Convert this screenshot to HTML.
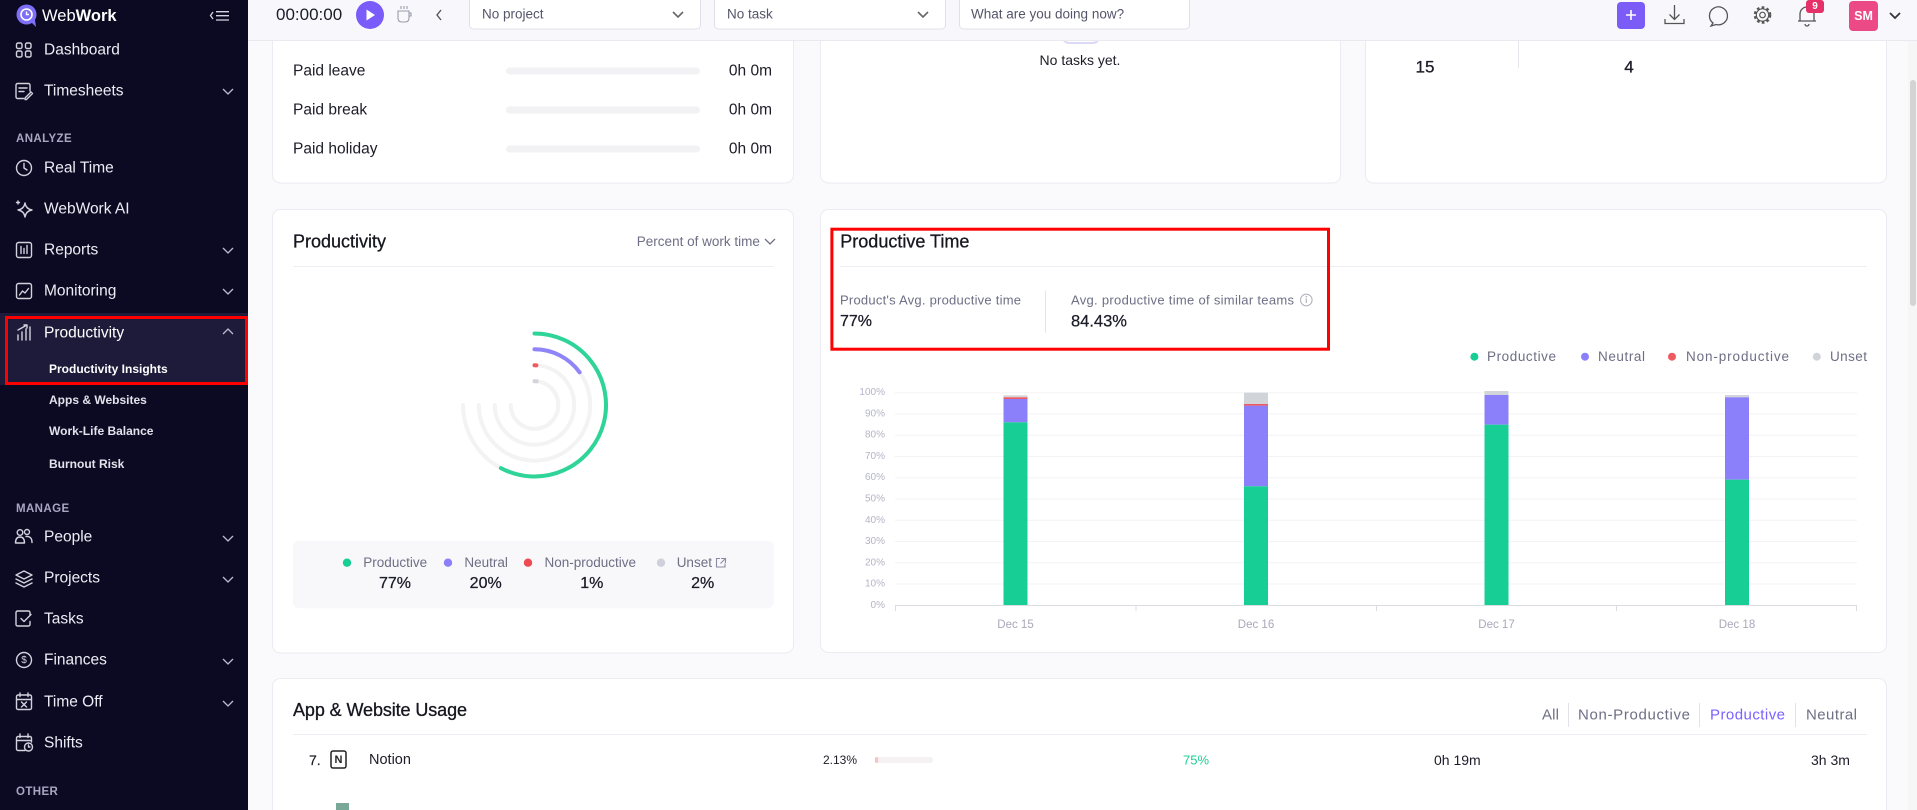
<!DOCTYPE html>
<html><head><meta charset="utf-8"><style>
html,body{margin:0;padding:0}
body{width:1917px;height:810px;overflow:hidden;background:#fafafc;font-family:"Liberation Sans",Arial,sans-serif}
svg text{font-family:"Liberation Sans",Arial,sans-serif}
</style></head><body>
<svg width="1917" height="810" viewBox="0 0 1917 810" xmlns="http://www.w3.org/2000/svg" style="position:absolute;left:0;top:0;display:block">
<!-- main bg -->
<rect x="248" y="0" width="1669" height="810" fill="#fafafc"/>
<!-- scrollbar -->
<rect x="1908" y="40" width="9" height="770" fill="#f6f6f6"/>
<rect x="1910" y="80" width="6" height="226" rx="3" fill="#d4d4d4"/>

<!-- top cards -->
<path d="M272.5 0 V175 a8 8 0 0 0 8 8 H785.5 a8 8 0 0 0 8 -8 V0" fill="#fff" stroke="#ebebf1"/>
<path d="M820.5 0 V175 a8 8 0 0 0 8 8 H1332.5 a8 8 0 0 0 8 -8 V0" fill="#fff" stroke="#ebebf1"/>
<path d="M1365.5 0 V175 a8 8 0 0 0 8 8 H1878.5 a8 8 0 0 0 8 -8 V0" fill="#fff" stroke="#ebebf1"/>

<g font-size="15.5" fill="#1c1c28" dominant-baseline="central">
<text x="293" y="71">Paid leave</text>
<text x="293" y="110">Paid break</text>
<text x="293" y="149">Paid holiday</text>
<text x="772" y="71" text-anchor="end">0h 0m</text>
<text x="772" y="110" text-anchor="end">0h 0m</text>
<text x="772" y="149" text-anchor="end">0h 0m</text>
</g>
<rect x="506" y="67.5" width="194" height="7" rx="3.5" fill="#f2f2f4"/>
<rect x="506" y="106.5" width="194" height="7" rx="3.5" fill="#f2f2f4"/>
<rect x="506" y="145.5" width="194" height="7" rx="3.5" fill="#f2f2f4"/>

<path d="M1063 36 q0 7 7 7 h22 q7 0 7 -7" fill="none" stroke="#dcd9f6" stroke-width="2"/>
<text x="1080" y="60" font-size="14" fill="#1c1c28" text-anchor="middle" dominant-baseline="central">No tasks yet.</text>

<line x1="1518.5" y1="38" x2="1518.5" y2="68" stroke="#e5e5ec"/>
<text x="1425" y="67" font-size="17" fill="#1c1c28" stroke="#1c1c28" stroke-width="0.3" text-anchor="middle" dominant-baseline="central">15</text>
<text x="1629" y="67" font-size="17" fill="#1c1c28" stroke="#1c1c28" stroke-width="0.3" text-anchor="middle" dominant-baseline="central">4</text>

<!-- Productivity card -->
<rect x="272.5" y="209.5" width="521" height="443.5" rx="8" fill="#fff" stroke="#ebebf1"/>
<text x="293" y="241.7" font-size="18" fill="#16161f" stroke="#16161f" stroke-width="0.3" dominant-baseline="central">Productivity</text>
<text x="636.8" y="241.7" font-size="13.5" fill="#6e6e85" dominant-baseline="central">Percent of work time</text>
<polyline points="765,239 770,244 775,239" fill="none" stroke="#6e6e85" stroke-width="1.3"/>
<line x1="293" y1="266.5" x2="773.7" y2="266.5" stroke="#ededf4"/>

<g fill="none" stroke-width="4" stroke-linecap="round">
<path d="M534.5 333.5 A71.5 71.5 0 1 1 463 405" stroke="#f3f3f3"/>
<path d="M534.5 349.3 A55.7 55.7 0 1 1 478.8 405" stroke="#f3f3f3"/>
<path d="M534.5 365.3 A39.7 39.7 0 1 1 494.8 405" stroke="#f3f3f3"/>
<path d="M534.5 381.2 A23.8 23.8 0 1 1 510.7 405" stroke="#f3f3f3"/>
<path d="M534.5 333.5 A71.5 71.5 0 1 1 500.9 468.1" stroke="#2fd498"/>
<path d="M534.5 349.3 A55.7 55.7 0 0 1 579.6 372.3" stroke="#8f84f8"/>
<path d="M534.5 365.3 A39.7 39.7 0 0 1 536.4 365.35" stroke="#ef5a60"/>
<path d="M534.5 381.2 A23.8 23.8 0 0 1 536.7 381.3" stroke="#d3d5da"/>
</g>

<rect x="293" y="541" width="480.7" height="67.3" rx="6" fill="#f8f8fb"/>
<circle cx="347" cy="562.7" r="4.2" fill="#17cf94"/>
<circle cx="448" cy="562.7" r="4.2" fill="#8c80fa"/>
<circle cx="528" cy="562.7" r="4.2" fill="#ef4a52"/>
<circle cx="661" cy="562.7" r="4.2" fill="#d0d0dc"/>
<g font-size="13.5" fill="#6e6e85" dominant-baseline="central">
<text x="363.3" y="562.7">Productive</text>
<text x="464.4" y="562.7">Neutral</text>
<text x="544.5" y="562.7">Non-productive</text>
<text x="676.7" y="562.7">Unset</text>
</g>
<path d="M720 558.5 h-3.5 v8.5 h8.5 v-3.5 M721 558.5 h4.5 v4.5 M725.5 558.5 l-5 5" fill="none" stroke="#8a8aa0" stroke-width="1.1"/>
<g font-size="16" fill="#1c1c28" stroke="#1c1c28" stroke-width="0.25" text-anchor="middle" dominant-baseline="central">
<text x="395" y="583.3">77%</text>
<text x="485.7" y="583.3">20%</text>
<text x="591.8" y="583.3">1%</text>
<text x="702.7" y="583.3">2%</text>
</g>

<!-- Productive Time card -->
<rect x="820.5" y="209.5" width="1066" height="443" rx="8" fill="#fff" stroke="#ebebf1"/>
<text x="840.3" y="241.7" font-size="18" fill="#16161f" stroke="#16161f" stroke-width="0.3" dominant-baseline="central">Productive Time</text>
<line x1="840" y1="266.5" x2="1867" y2="266.5" stroke="#ededf4"/>
<text x="840" y="300" font-size="13" fill="#6e6e85" dominant-baseline="central" textLength="181" lengthAdjust="spacing">Product's Avg. productive time</text>
<text x="1071" y="300" font-size="13" fill="#6e6e85" dominant-baseline="central" textLength="223" lengthAdjust="spacing">Avg. productive time of similar teams</text>
<circle cx="1306.3" cy="300" r="5.8" fill="none" stroke="#b4b4c2" stroke-width="1.1"/>
<line x1="1306.3" y1="298.5" x2="1306.3" y2="303" stroke="#b4b4c2" stroke-width="1.2"/>
<circle cx="1306.3" cy="296.7" r="0.8" fill="#b4b4c2"/>
<line x1="1045.5" y1="290.7" x2="1045.5" y2="332.7" stroke="#e3e3ea"/>
<text x="840" y="321.5" font-size="16" fill="#1c1c28" stroke="#1c1c28" stroke-width="0.25" dominant-baseline="central">77%</text>
<text x="1071" y="321.5" font-size="16.5" fill="#1c1c28" stroke="#1c1c28" stroke-width="0.25" dominant-baseline="central">84.43%</text>
<rect x="831.9" y="229.2" width="496.6" height="120" fill="none" stroke="#ff0000" stroke-width="3"/>

<circle cx="1474.4" cy="356.7" r="4" fill="#17cf94"/>
<circle cx="1585" cy="356.7" r="4" fill="#8c80fa"/>
<circle cx="1672" cy="356.7" r="4" fill="#ef5a60"/>
<circle cx="1816.8" cy="356.7" r="4" fill="#d0d3d8"/>
<g font-size="13.5" fill="#6e6e85" dominant-baseline="central">
<text x="1487" y="356.7" textLength="69" lengthAdjust="spacing">Productive</text>
<text x="1598" y="356.7" textLength="47" lengthAdjust="spacing">Neutral</text>
<text x="1686" y="356.7" textLength="103" lengthAdjust="spacing">Non-productive</text>
<text x="1830" y="356.7" textLength="37" lengthAdjust="spacing">Unset</text>
</g>

<!-- grid -->
<g stroke="#f3f3f6" stroke-width="1">
<line x1="895" y1="584" x2="1857" y2="584"/>
<line x1="895" y1="562.8" x2="1857" y2="562.8"/>
<line x1="895" y1="541.5" x2="1857" y2="541.5"/>
<line x1="895" y1="520.3" x2="1857" y2="520.3"/>
<line x1="895" y1="499" x2="1857" y2="499"/>
<line x1="895" y1="477.7" x2="1857" y2="477.7"/>
<line x1="895" y1="456.5" x2="1857" y2="456.5"/>
<line x1="895" y1="435.2" x2="1857" y2="435.2"/>
<line x1="895" y1="414" x2="1857" y2="414"/>
<line x1="895" y1="392.7" x2="1857" y2="392.7"/>
</g>
<g font-size="10" fill="#b4b4c6" text-anchor="end" dominant-baseline="central">
<text x="885" y="605.3">0%</text>
<text x="885" y="584">10%</text>
<text x="885" y="562.8">20%</text>
<text x="885" y="541.5">30%</text>
<text x="885" y="520.3">40%</text>
<text x="885" y="499">50%</text>
<text x="885" y="477.7">60%</text>
<text x="885" y="456.5">70%</text>
<text x="885" y="435.2">80%</text>
<text x="885" y="414">90%</text>
<text x="885" y="392.7">100%</text>
</g>
<!-- bars -->
<g>
<rect x="1003.5" y="395.3" width="24" height="2" fill="#d1d4d9"/>
<rect x="1003.5" y="397.3" width="24" height="1.8" fill="#ef5a60"/>
<rect x="1003.5" y="399" width="24" height="23.3" fill="#8c80fa"/>
<rect x="1003.5" y="422.3" width="24" height="183" fill="#17cf94"/>

<rect x="1244" y="392.7" width="24" height="11.3" fill="#d1d4d9"/>
<rect x="1244" y="404" width="24" height="1.8" fill="#ef5a60"/>
<rect x="1244" y="405.7" width="24" height="80.6" fill="#8c80fa"/>
<rect x="1244" y="486.3" width="24" height="119" fill="#17cf94"/>

<rect x="1484.5" y="391" width="24" height="4" fill="#d1d4d9"/>
<rect x="1484.5" y="395" width="24" height="29.7" fill="#8c80fa"/>
<rect x="1484.5" y="424.7" width="24" height="180.6" fill="#17cf94"/>

<rect x="1725" y="395" width="24" height="2.3" fill="#d1d4d9"/>
<rect x="1725" y="397.3" width="24" height="82.4" fill="#8c80fa"/>
<rect x="1725" y="479.7" width="24" height="125.6" fill="#17cf94"/>
</g>
<g stroke="#dcdce4" stroke-width="1">
<line x1="895" y1="605.5" x2="1857" y2="605.5"/>
<line x1="895.5" y1="605" x2="895.5" y2="611"/>
<line x1="1136" y1="605" x2="1136" y2="611"/>
<line x1="1376.5" y1="605" x2="1376.5" y2="611"/>
<line x1="1616.5" y1="605" x2="1616.5" y2="611"/>
<line x1="1856.5" y1="605" x2="1856.5" y2="611"/>
</g>
<g font-size="11.5" fill="#a8a8ba" text-anchor="middle" dominant-baseline="central">
<text x="1015.5" y="625">Dec 15</text>
<text x="1256" y="625">Dec 16</text>
<text x="1496.5" y="625">Dec 17</text>
<text x="1737" y="625">Dec 18</text>
</g>

<!-- App & Website Usage -->
<path d="M272.5 810 V686.5 a8 8 0 0 1 8 -8 H1878.5 a8 8 0 0 1 8 8 V810" fill="#fff" stroke="#ebebf1"/>
<text x="293" y="710" font-size="18" fill="#16161f" stroke="#16161f" stroke-width="0.3" dominant-baseline="central" textLength="174" lengthAdjust="spacing">App &amp; Website Usage</text>
<g font-size="15" fill="#6e6e85" dominant-baseline="central">
<text x="1542" y="715" textLength="17" lengthAdjust="spacing">All</text>
<text x="1578" y="715" textLength="112" lengthAdjust="spacing">Non-Productive</text>
<text x="1710" y="715" fill="#7b61ff" textLength="75" lengthAdjust="spacing">Productive</text>
<text x="1806" y="715" textLength="51" lengthAdjust="spacing">Neutral</text>
</g>
<g stroke="#e2e2ea">
<line x1="1568.5" y1="703" x2="1568.5" y2="727"/>
<line x1="1699.5" y1="703" x2="1699.5" y2="727"/>
<line x1="1795.5" y1="703" x2="1795.5" y2="727"/>
</g>
<line x1="293" y1="734.5" x2="1867" y2="734.5" stroke="#ededf4"/>
<g fill="#1c1c28" dominant-baseline="central">
<text x="309" y="760" font-size="14" stroke="#1c1c28" stroke-width="0.2">7.</text>
<text x="369" y="760" font-size="14.5">Notion</text>
<text x="823" y="760" font-size="12">2.13%</text>
<text x="1183" y="760" font-size="13" fill="#1fcf93">75%</text>
<text x="1434" y="760" font-size="14">0h 19m</text>
<text x="1811" y="760" font-size="14">3h 3m</text>
</g>
<rect x="331" y="751" width="15" height="17" rx="2" fill="#fff" stroke="#222" stroke-width="1.5"/>
<text x="338.5" y="760" font-size="11" font-weight="bold" fill="#222" text-anchor="middle" dominant-baseline="central">N</text>
<rect x="875" y="757" width="58" height="6" rx="3" fill="#f4f2f3"/>
<rect x="875" y="757" width="3" height="6" rx="1.5" fill="#f6c3c6"/>
<rect x="336" y="803" width="13" height="7" fill="#7aa898"/>

<!-- header -->
<rect x="248" y="0" width="1669" height="40" fill="#f8f8fc"/>
<line x1="248" y1="40.5" x2="1917" y2="40.5" stroke="#e9e9f0"/>
<text x="276" y="14.5" font-size="17" fill="#1c1c28" dominant-baseline="central">00:00:00</text>
<circle cx="370" cy="15" r="14" fill="#7a5cfa"/>
<path d="M366.5 9.5 L375 15 L366.5 20.5 Z" fill="#fff"/>
<path d="M398 11 h11 v7 q0 4 -4 4 h-3 q-4 0 -4 -4 Z M409 13 h2 v3 h-2 M401 6 v3 M404 6 v3 M407 6 v3" fill="none" stroke="#9a9aa8" stroke-width="1.1"/>
<polyline points="441,10 437,15 441,20" fill="none" stroke="#555" stroke-width="1.4"/>

<path d="M469.5 0 V25 a4 4 0 0 0 4 4 H696.5 a4 4 0 0 0 4 -4 V0" fill="#fff" stroke="#e0e0ea"/>
<path d="M714.5 0 V25 a4 4 0 0 0 4 4 H941.5 a4 4 0 0 0 4 -4 V0" fill="#fff" stroke="#e0e0ea"/>
<path d="M959.5 0 V25 a4 4 0 0 0 4 4 H1185.5 a4 4 0 0 0 4 -4 V0" fill="#fff" stroke="#e0e0ea"/>
<g font-size="13.5" fill="#55556a" dominant-baseline="central">
<text x="482" y="14">No project</text>
<text x="727" y="14">No task</text>
<text x="971" y="14">What are you doing now?</text>
</g>
<polyline points="673,12 678,17 683,12" fill="none" stroke="#666" stroke-width="1.6"/>
<polyline points="918,12 923,17 928,12" fill="none" stroke="#666" stroke-width="1.6"/>

<rect x="1617" y="2" width="28" height="27" rx="4" fill="#7b5cf6"/>
<path d="M1631 10 v10 M1626 15 h10" stroke="#fff" stroke-width="1.6"/>
<path d="M1674.5 5 v14 M1669.5 14.5 l5 5 l5 -5 M1665 19 v4.5 h19 v-4.5" fill="none" stroke="#555" stroke-width="1.3"/>
<path d="M1713 23 l-2 3 l5 -1.5 a9 9 0 1 0 -3 -1.5 Z" fill="none" stroke="#555" stroke-width="1.3"/>
<circle cx="1762.5" cy="15" r="7.5" fill="none" stroke="#555" stroke-width="2.6" stroke-dasharray="2.6 2.3"/>
<circle cx="1762.5" cy="15" r="6.2" fill="none" stroke="#555" stroke-width="1.2"/>
<circle cx="1762.5" cy="15" r="2.8" fill="none" stroke="#555" stroke-width="1.2"/>
<path d="M1800 21 v-7 a7 7 0 0 1 14 0 v7 h2 M1798 21 h18 M1805 24 a2 2 0 0 0 4 0" fill="none" stroke="#555" stroke-width="1.3"/>
<rect x="1806" y="0" width="18" height="13" rx="3" fill="#e6306a"/>
<text x="1815" y="6.5" font-size="10" font-weight="bold" fill="#fff" text-anchor="middle" dominant-baseline="central">9</text>
<rect x="1849" y="1" width="29" height="30" rx="4" fill="#ec4a86"/>
<text x="1863.5" y="16" font-size="12.5" font-weight="bold" fill="#fff" text-anchor="middle" dominant-baseline="central">SM</text>
<polyline points="1890,13 1895,18 1900,13" fill="none" stroke="#333" stroke-width="1.7"/>

<!-- sidebar -->
<rect x="0" y="0" width="248" height="810" fill="#0c0a22"/>
<rect x="0" y="313" width="248" height="72" fill="#1d1a3a"/>
<rect x="6.5" y="317.5" width="240" height="66" fill="none" stroke="#ff0000" stroke-width="3"/>
<circle cx="26.5" cy="14.5" r="10" fill="#7d6ff7"/>
<path d="M31 22 l5 5 l-1 -7 Z" fill="#7d6ff7"/>
<circle cx="26.5" cy="14.5" r="5.5" fill="none" stroke="#fff" stroke-width="1.6"/>
<path d="M26.5 11.5 v3 h2.5" fill="none" stroke="#fff" stroke-width="1.4"/>
<text x="42" y="16" font-size="16.5" fill="#fff" dominant-baseline="central">Web<tspan font-weight="bold">Work</tspan></text>
<path d="M213 12 l-2.5 3.5 l2.5 3.5 M216 11.7 h13 M216 15.7 h13 M216 20 h13" fill="none" stroke="#d6d6e2" stroke-width="1.3"/>

<g fill="none" stroke="#d2d2de" stroke-width="1.4" stroke-linecap="round" stroke-linejoin="round">
<rect x="16.5" y="43" width="5.5" height="5.5" rx="1.5"/><rect x="16.5" y="51" width="5.5" height="6" rx="1.5"/>
<rect x="25.5" y="43" width="5.5" height="5.5" rx="1.5"/><rect x="25.5" y="51" width="5.5" height="6" rx="1.5"/>
<path d="M30 91 v-6 a1.5 1.5 0 0 0 -1.5 -1.5 h-11 a1.5 1.5 0 0 0 -1.5 1.5 v12 a1.5 1.5 0 0 0 1.5 1.5 h6 M19 88 h8 M19 91.5 h5 M25 98 l6 -6 l1.5 1.5 l-6 6 h-1.5 Z"/>
<circle cx="24" cy="168" r="7.5"/><path d="M24 163.5 v4.5 l3 2"/>
<path d="M25 203 q1 6 7 7 q-6 1 -7 7 q-1 -6 -7 -7 q6 -1 7 -7 Z M18 201 v3 M16.5 202.5 h3"/>
<rect x="16.5" y="242.5" width="15" height="15" rx="2"/><path d="M21 246.5 v7 M24 248.5 v5 M27 245.5 v8"/>
<rect x="16.5" y="283.5" width="15" height="15" rx="2"/><path d="M19.5 295 l3 -4 l2.5 2 l3.5 -4.5"/>
<path d="M18 340 v-5 M22 340 v-8 M26 340 v-11 M30 340 v-13 M18 330 l9 -5 M24 325 h3 v3"/>
<circle cx="20" cy="532.5" r="2.8"/><path d="M15.5 543 q0 -6 4.5 -6 q4.5 0 4.5 6 Z"/><circle cx="27" cy="532" r="2.5"/><path d="M26 536.5 q6 -0.5 6 6"/>
<path d="M24 571 l8 4 l-8 4 l-8 -4 Z M16 579 l8 4 l8 -4 M16 583 l8 4 l8 -4"/>
<path d="M30 615 v-2.5 a1.5 1.5 0 0 0 -1.5 -1.5 h-11 a1.5 1.5 0 0 0 -1.5 1.5 v12 a1.5 1.5 0 0 0 1.5 1.5 h11 a1.5 1.5 0 0 0 1.5 -1.5 v-3 M21 618.5 l3 3 l7 -7"/>
<circle cx="24" cy="660" r="7.5"/>
<rect x="16.5" y="695" width="15" height="14.5" rx="1.5"/><path d="M16.5 699.5 h15 M20 693 v3.5 M28 693 v3.5 M21.5 702 l5 5 M26.5 702 l-5 5"/>
<path d="M25 750.5 h-7 a1.5 1.5 0 0 1 -1.5 -1.5 v-11 a1.5 1.5 0 0 1 1.5 -1.5 h12 a1.5 1.5 0 0 1 1.5 1.5 v4 M16.5 740.5 h15 M20 734 v3.5 M28 734 v3.5"/><circle cx="28.5" cy="747" r="4"/><path d="M28.5 745 v2 h1.5"/>
</g>
<text x="24" y="660.5" font-size="10" fill="#d2d2de" text-anchor="middle" dominant-baseline="central">$</text>

<g font-size="15.5" fill="#ececf4" dominant-baseline="central">
<text x="44" y="50">Dashboard</text>
<text x="44" y="91">Timesheets</text>
<text x="44" y="168">Real Time</text>
<text x="44" y="209">WebWork AI</text>
<text x="44" y="250">Reports</text>
<text x="44" y="291">Monitoring</text>
<text x="44" y="333" fill="#fff">Productivity</text>
<text x="44" y="537">People</text>
<text x="44" y="578">Projects</text>
<text x="44" y="619">Tasks</text>
<text x="44" y="660">Finances</text>
<text x="44" y="702">Time Off</text>
<text x="44" y="743">Shifts</text>
</g>
<g font-size="12" font-weight="bold" fill="#e2e2ec" dominant-baseline="central">
<text x="49" y="369" fill="#fff">Productivity Insights</text>
<text x="49" y="400">Apps &amp; Websites</text>
<text x="49" y="431">Work-Life Balance</text>
<text x="49" y="464">Burnout Risk</text>
</g>
<g font-size="11.5" font-weight="bold" fill="#a8a6c0" letter-spacing="0.4" dominant-baseline="central">
<text x="16" y="139">ANALYZE</text>
<text x="16" y="509">MANAGE</text>
<text x="16" y="792">OTHER</text>
</g>
<g fill="none" stroke="#bdbdd0" stroke-width="1.3">
<polyline points="223,89 228,94 233,89"/>
<polyline points="223,248 228,253 233,248"/>
<polyline points="223,289 228,294 233,289"/>
<polyline points="223,334 228,329 233,334"/>
<polyline points="223,536 228,541 233,536"/>
<polyline points="223,577 228,582 233,577"/>
<polyline points="223,659 228,664 233,659"/>
<polyline points="223,701 228,706 233,701"/>
</g>
</svg>
</body></html>
